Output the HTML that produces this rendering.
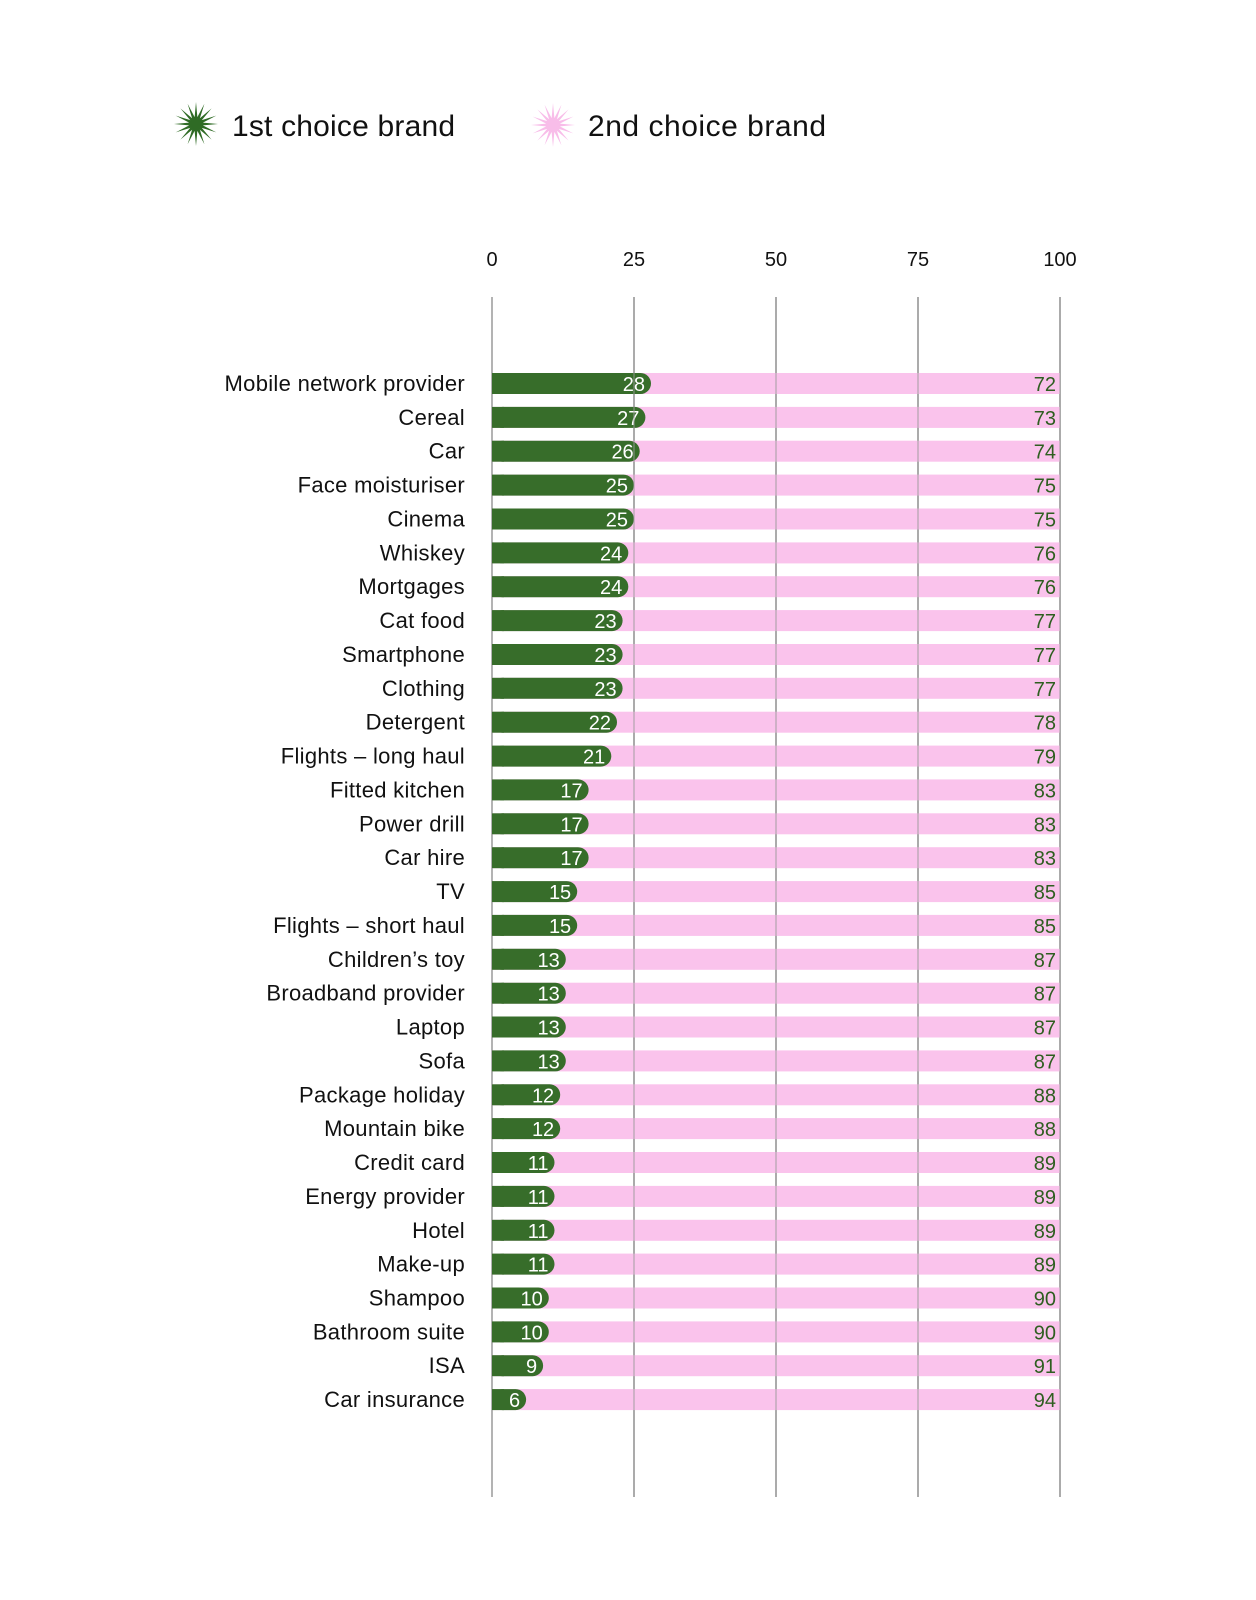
<!DOCTYPE html>
<html><head><meta charset="utf-8"><style>
html,body{margin:0;padding:0;background:#fff}
svg{display:block}
text{font-family:"Liberation Sans",sans-serif}
.c{font-size:22px;fill:#111;text-anchor:end;letter-spacing:0.3px}
.g{font-size:20px;fill:#fff;text-anchor:end}
.p{font-size:20px;fill:#2e5e20;text-anchor:end}
</style></head><body>
<svg width="1256" height="1600" viewBox="0 0 1256 1600" xmlns="http://www.w3.org/2000/svg">
<defs>
<polygon id="star" points="22,0 6.87,1.37 20.3,8.4 5.8,3.9 15.6,15.6 3.9,5.8 8.4,20.3 1.37,6.87 0,22 -1.37,6.87 -8.4,20.3 -3.9,5.8 -15.6,15.6 -5.8,3.9 -20.3,8.4 -6.87,1.37 -22,0 -6.87,-1.37 -20.3,-8.4 -5.8,-3.9 -15.6,-15.6 -3.9,-5.8 -8.4,-20.3 -1.37,-6.87 0,-22 1.37,-6.87 8.4,-20.3 3.9,-5.8 15.6,-15.6 5.8,-3.9 20.3,-8.4 6.87,-1.37"/>
</defs>
<use href="#star" transform="translate(196,124)" fill="#2f6b25"/>
<text x="232" y="136" font-size="30" fill="#111" textLength="223">1st choice brand</text>
<use href="#star" transform="translate(553,125)" fill="#f8bde9"/>
<text x="588" y="136" font-size="30" fill="#111" textLength="238">2nd choice brand</text>

<g font-size="20" fill="#111" text-anchor="middle">
<text x="492" y="266">0</text><text x="634" y="266">25</text><text x="776" y="266">50</text><text x="918" y="266">75</text><text x="1060" y="266">100</text>
</g>

<g stroke="#9a9a9a" stroke-width="1.5">
<line x1="492" y1="297" x2="492" y2="1497"/><line x1="634" y1="297" x2="634" y2="1497"/><line x1="776" y1="297" x2="776" y2="1497"/><line x1="918" y1="297" x2="918" y2="1497"/><line x1="1060" y1="297" x2="1060" y2="1497"/>
</g>

<g id="rows">
<g transform="translate(0,373)"><rect x="492" width="568" height="21" fill="#fac3ec"/><rect x="492" width="159" height="21" rx="10.5" fill="#376d2a"/><rect x="492" width="12" height="21" fill="#376d2a"/><text class="g" x="645" y="18">28</text><text class="p" x="1056" y="18">72</text><text class="c" x="465" y="18">Mobile network provider</text></g>
<g transform="translate(0,406.9)"><rect x="492" width="568" height="21" fill="#fac3ec"/><rect x="492" width="153.4" height="21" rx="10.5" fill="#376d2a"/><rect x="492" width="12" height="21" fill="#376d2a"/><text class="g" x="639.4" y="18">27</text><text class="p" x="1056" y="18">73</text><text class="c" x="465" y="18">Cereal</text></g>
<g transform="translate(0,440.7)"><rect x="492" width="568" height="21" fill="#fac3ec"/><rect x="492" width="147.7" height="21" rx="10.5" fill="#376d2a"/><rect x="492" width="12" height="21" fill="#376d2a"/><text class="g" x="633.7" y="18">26</text><text class="p" x="1056" y="18">74</text><text class="c" x="465" y="18">Car</text></g>
<g transform="translate(0,474.6)"><rect x="492" width="568" height="21" fill="#fac3ec"/><rect x="492" width="142" height="21" rx="10.5" fill="#376d2a"/><rect x="492" width="12" height="21" fill="#376d2a"/><text class="g" x="628" y="18">25</text><text class="p" x="1056" y="18">75</text><text class="c" x="465" y="18">Face moisturiser</text></g>
<g transform="translate(0,508.5)"><rect x="492" width="568" height="21" fill="#fac3ec"/><rect x="492" width="142" height="21" rx="10.5" fill="#376d2a"/><rect x="492" width="12" height="21" fill="#376d2a"/><text class="g" x="628" y="18">25</text><text class="p" x="1056" y="18">75</text><text class="c" x="465" y="18">Cinema</text></g>
<g transform="translate(0,542.4)"><rect x="492" width="568" height="21" fill="#fac3ec"/><rect x="492" width="136.3" height="21" rx="10.5" fill="#376d2a"/><rect x="492" width="12" height="21" fill="#376d2a"/><text class="g" x="622.3" y="18">24</text><text class="p" x="1056" y="18">76</text><text class="c" x="465" y="18">Whiskey</text></g>
<g transform="translate(0,576.2)"><rect x="492" width="568" height="21" fill="#fac3ec"/><rect x="492" width="136.3" height="21" rx="10.5" fill="#376d2a"/><rect x="492" width="12" height="21" fill="#376d2a"/><text class="g" x="622.3" y="18">24</text><text class="p" x="1056" y="18">76</text><text class="c" x="465" y="18">Mortgages</text></g>
<g transform="translate(0,610.1)"><rect x="492" width="568" height="21" fill="#fac3ec"/><rect x="492" width="130.6" height="21" rx="10.5" fill="#376d2a"/><rect x="492" width="12" height="21" fill="#376d2a"/><text class="g" x="616.6" y="18">23</text><text class="p" x="1056" y="18">77</text><text class="c" x="465" y="18">Cat food</text></g>
<g transform="translate(0,644)"><rect x="492" width="568" height="21" fill="#fac3ec"/><rect x="492" width="130.6" height="21" rx="10.5" fill="#376d2a"/><rect x="492" width="12" height="21" fill="#376d2a"/><text class="g" x="616.6" y="18">23</text><text class="p" x="1056" y="18">77</text><text class="c" x="465" y="18">Smartphone</text></g>
<g transform="translate(0,677.8)"><rect x="492" width="568" height="21" fill="#fac3ec"/><rect x="492" width="130.6" height="21" rx="10.5" fill="#376d2a"/><rect x="492" width="12" height="21" fill="#376d2a"/><text class="g" x="616.6" y="18">23</text><text class="p" x="1056" y="18">77</text><text class="c" x="465" y="18">Clothing</text></g>
<g transform="translate(0,711.7)"><rect x="492" width="568" height="21" fill="#fac3ec"/><rect x="492" width="125" height="21" rx="10.5" fill="#376d2a"/><rect x="492" width="12" height="21" fill="#376d2a"/><text class="g" x="611" y="18">22</text><text class="p" x="1056" y="18">78</text><text class="c" x="465" y="18">Detergent</text></g>
<g transform="translate(0,745.6)"><rect x="492" width="568" height="21" fill="#fac3ec"/><rect x="492" width="119.3" height="21" rx="10.5" fill="#376d2a"/><rect x="492" width="12" height="21" fill="#376d2a"/><text class="g" x="605.3" y="18">21</text><text class="p" x="1056" y="18">79</text><text class="c" x="465" y="18">Flights – long haul</text></g>
<g transform="translate(0,779.4)"><rect x="492" width="568" height="21" fill="#fac3ec"/><rect x="492" width="96.6" height="21" rx="10.5" fill="#376d2a"/><rect x="492" width="12" height="21" fill="#376d2a"/><text class="g" x="582.6" y="18">17</text><text class="p" x="1056" y="18">83</text><text class="c" x="465" y="18">Fitted kitchen</text></g>
<g transform="translate(0,813.3)"><rect x="492" width="568" height="21" fill="#fac3ec"/><rect x="492" width="96.6" height="21" rx="10.5" fill="#376d2a"/><rect x="492" width="12" height="21" fill="#376d2a"/><text class="g" x="582.6" y="18">17</text><text class="p" x="1056" y="18">83</text><text class="c" x="465" y="18">Power drill</text></g>
<g transform="translate(0,847.2)"><rect x="492" width="568" height="21" fill="#fac3ec"/><rect x="492" width="96.6" height="21" rx="10.5" fill="#376d2a"/><rect x="492" width="12" height="21" fill="#376d2a"/><text class="g" x="582.6" y="18">17</text><text class="p" x="1056" y="18">83</text><text class="c" x="465" y="18">Car hire</text></g>
<g transform="translate(0,881.1)"><rect x="492" width="568" height="21" fill="#fac3ec"/><rect x="492" width="85.2" height="21" rx="10.5" fill="#376d2a"/><rect x="492" width="12" height="21" fill="#376d2a"/><text class="g" x="571.2" y="18">15</text><text class="p" x="1056" y="18">85</text><text class="c" x="465" y="18">TV</text></g>
<g transform="translate(0,914.9)"><rect x="492" width="568" height="21" fill="#fac3ec"/><rect x="492" width="85.2" height="21" rx="10.5" fill="#376d2a"/><rect x="492" width="12" height="21" fill="#376d2a"/><text class="g" x="571.2" y="18">15</text><text class="p" x="1056" y="18">85</text><text class="c" x="465" y="18">Flights – short haul</text></g>
<g transform="translate(0,948.8)"><rect x="492" width="568" height="21" fill="#fac3ec"/><rect x="492" width="73.8" height="21" rx="10.5" fill="#376d2a"/><rect x="492" width="12" height="21" fill="#376d2a"/><text class="g" x="559.8" y="18">13</text><text class="p" x="1056" y="18">87</text><text class="c" x="465" y="18">Children’s toy</text></g>
<g transform="translate(0,982.7)"><rect x="492" width="568" height="21" fill="#fac3ec"/><rect x="492" width="73.8" height="21" rx="10.5" fill="#376d2a"/><rect x="492" width="12" height="21" fill="#376d2a"/><text class="g" x="559.8" y="18">13</text><text class="p" x="1056" y="18">87</text><text class="c" x="465" y="18">Broadband provider</text></g>
<g transform="translate(0,1016.5)"><rect x="492" width="568" height="21" fill="#fac3ec"/><rect x="492" width="73.8" height="21" rx="10.5" fill="#376d2a"/><rect x="492" width="12" height="21" fill="#376d2a"/><text class="g" x="559.8" y="18">13</text><text class="p" x="1056" y="18">87</text><text class="c" x="465" y="18">Laptop</text></g>
<g transform="translate(0,1050.4)"><rect x="492" width="568" height="21" fill="#fac3ec"/><rect x="492" width="73.8" height="21" rx="10.5" fill="#376d2a"/><rect x="492" width="12" height="21" fill="#376d2a"/><text class="g" x="559.8" y="18">13</text><text class="p" x="1056" y="18">87</text><text class="c" x="465" y="18">Sofa</text></g>
<g transform="translate(0,1084.3)"><rect x="492" width="568" height="21" fill="#fac3ec"/><rect x="492" width="68.2" height="21" rx="10.5" fill="#376d2a"/><rect x="492" width="12" height="21" fill="#376d2a"/><text class="g" x="554.2" y="18">12</text><text class="p" x="1056" y="18">88</text><text class="c" x="465" y="18">Package holiday</text></g>
<g transform="translate(0,1118.1)"><rect x="492" width="568" height="21" fill="#fac3ec"/><rect x="492" width="68.2" height="21" rx="10.5" fill="#376d2a"/><rect x="492" width="12" height="21" fill="#376d2a"/><text class="g" x="554.2" y="18">12</text><text class="p" x="1056" y="18">88</text><text class="c" x="465" y="18">Mountain bike</text></g>
<g transform="translate(0,1152)"><rect x="492" width="568" height="21" fill="#fac3ec"/><rect x="492" width="62.5" height="21" rx="10.5" fill="#376d2a"/><rect x="492" width="12" height="21" fill="#376d2a"/><text class="g" x="548.5" y="18">11</text><text class="p" x="1056" y="18">89</text><text class="c" x="465" y="18">Credit card</text></g>
<g transform="translate(0,1185.9)"><rect x="492" width="568" height="21" fill="#fac3ec"/><rect x="492" width="62.5" height="21" rx="10.5" fill="#376d2a"/><rect x="492" width="12" height="21" fill="#376d2a"/><text class="g" x="548.5" y="18">11</text><text class="p" x="1056" y="18">89</text><text class="c" x="465" y="18">Energy provider</text></g>
<g transform="translate(0,1219.8)"><rect x="492" width="568" height="21" fill="#fac3ec"/><rect x="492" width="62.5" height="21" rx="10.5" fill="#376d2a"/><rect x="492" width="12" height="21" fill="#376d2a"/><text class="g" x="548.5" y="18">11</text><text class="p" x="1056" y="18">89</text><text class="c" x="465" y="18">Hotel</text></g>
<g transform="translate(0,1253.6)"><rect x="492" width="568" height="21" fill="#fac3ec"/><rect x="492" width="62.5" height="21" rx="10.5" fill="#376d2a"/><rect x="492" width="12" height="21" fill="#376d2a"/><text class="g" x="548.5" y="18">11</text><text class="p" x="1056" y="18">89</text><text class="c" x="465" y="18">Make-up</text></g>
<g transform="translate(0,1287.5)"><rect x="492" width="568" height="21" fill="#fac3ec"/><rect x="492" width="56.8" height="21" rx="10.5" fill="#376d2a"/><rect x="492" width="12" height="21" fill="#376d2a"/><text class="g" x="542.8" y="18">10</text><text class="p" x="1056" y="18">90</text><text class="c" x="465" y="18">Shampoo</text></g>
<g transform="translate(0,1321.4)"><rect x="492" width="568" height="21" fill="#fac3ec"/><rect x="492" width="56.8" height="21" rx="10.5" fill="#376d2a"/><rect x="492" width="12" height="21" fill="#376d2a"/><text class="g" x="542.8" y="18">10</text><text class="p" x="1056" y="18">90</text><text class="c" x="465" y="18">Bathroom suite</text></g>
<g transform="translate(0,1355.2)"><rect x="492" width="568" height="21" fill="#fac3ec"/><rect x="492" width="51.1" height="21" rx="10.5" fill="#376d2a"/><rect x="492" width="12" height="21" fill="#376d2a"/><text class="g" x="537.1" y="18">9</text><text class="p" x="1056" y="18">91</text><text class="c" x="465" y="18">ISA</text></g>
<g transform="translate(0,1389.1)"><rect x="492" width="568" height="21" fill="#fac3ec"/><rect x="492" width="34.1" height="21" rx="10.5" fill="#376d2a"/><rect x="492" width="12" height="21" fill="#376d2a"/><text class="g" x="520.1" y="18">6</text><text class="p" x="1056" y="18">94</text><text class="c" x="465" y="18">Car insurance</text></g>
</g>

<g stroke="#9a9a9a" stroke-width="1.5" opacity="0.6">
<line x1="634" y1="297" x2="634" y2="1497"/><line x1="776" y1="297" x2="776" y2="1497"/><line x1="918" y1="297" x2="918" y2="1497"/><line x1="1060" y1="297" x2="1060" y2="1497"/>
</g>
</svg>
</body></html>
